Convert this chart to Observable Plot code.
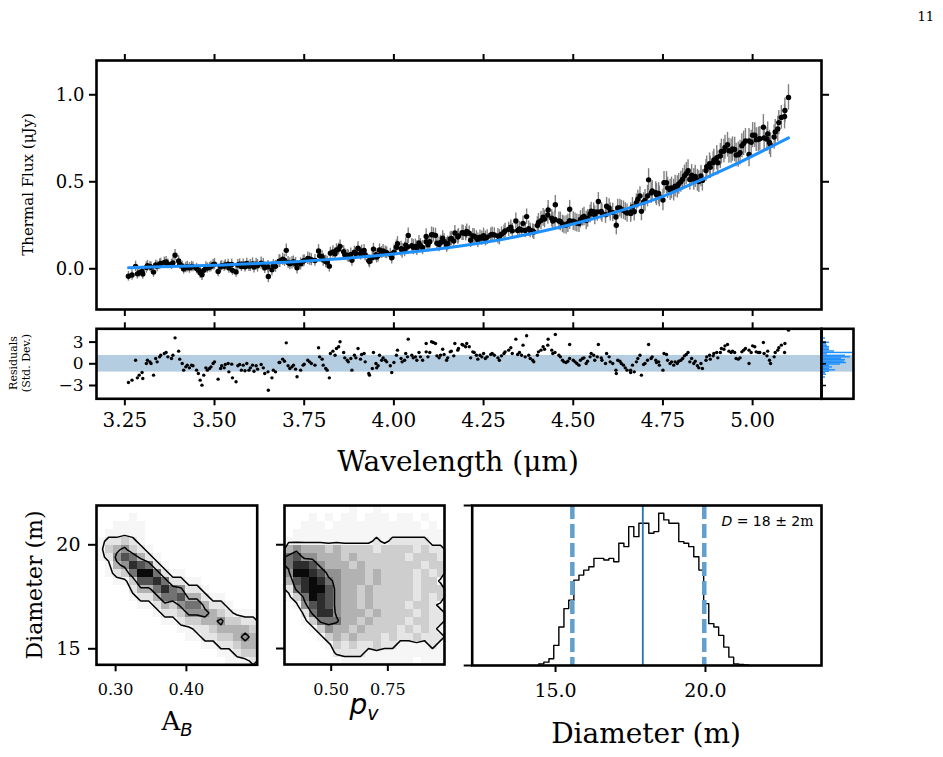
<!DOCTYPE html>
<html><head><meta charset="utf-8">
<script src="https://cdn.jsdelivr.net/npm/d3@7"></script>
<script src="https://cdn.jsdelivr.net/npm/@observablehq/plot@0.6"></script>
<style>
body{margin:0;background:#fff;}
#fig{position:relative;width:943px;height:757px;overflow:hidden;background:#fff;}
#fig svg{position:absolute;max-width:none;overflow:visible;}
</style></head><body><div id="fig"></div>
<script>
// ---------- DATA ----------
// Spectral channels (set A)
const wavelength = [
3.26,3.27,3.28,3.29,3.30,3.31,3.32,3.33,3.34,3.35,
3.36,3.37,3.38,3.39,3.40,3.41,3.42,3.43,3.44,3.45,
3.46,3.47,3.48,3.49,3.50,3.51,3.52,3.53,3.54,3.55,
3.56,3.57,3.58,3.59,3.60,3.61,3.62,3.63,3.64,3.65,
3.66,3.67,3.68,3.69,3.70,3.71,3.72,3.73,3.74,3.75,
3.76,3.77,3.78,3.79,3.80,3.81,3.82,3.83,3.84,3.85,
3.86,3.87,3.88,3.89,3.90,3.91,3.92,3.93,3.94,3.95,
3.96,3.97,3.98,3.99,4.00,4.01,4.02,4.03,4.04,4.05,
4.06,4.07,4.08,4.09,4.10,4.11,4.12,4.13,4.14,4.15,
4.16,4.17,4.18,4.19,4.20,4.21,4.22,4.23,4.24,4.25,
4.26,4.27,4.28,4.29,4.30,4.31,4.32,4.33,4.34,4.35,
4.36,4.37,4.38,4.39,4.40,4.41,4.42,4.43,4.44,4.45,
4.46,4.47,4.48,4.49,4.50,4.51,4.52,4.53,4.54,4.55,
4.56,4.57,4.58,4.59,4.60,4.61,4.62,4.63,4.64,4.65,
4.66,4.67,4.68,4.69,4.70,4.71,4.72,4.73,4.74,4.75,
4.76,4.77,4.78,4.79,4.80,4.81,4.82,4.83,4.84,4.85,
4.86,4.87,4.88,4.89,4.90,4.91,4.92,4.93,4.94,4.95,
4.96,4.97,4.98,4.99,5.00,5.01,5.02,5.03,5.04,5.05,
5.06,5.07,5.08,5.09,5.10];

const flux = [
-0.043,-0.036,0.014,-0.022,-0.030,0.008,0.013,-0.019,0.014,0.031,
0.037,0.028,0.025,0.078,0.045,0.015,0.007,0.005,0.011,0.001,
-0.023,-0.009,0.004,0.013,0.027,-0.016,0.018,0.022,0.005,-0.009,
-0.018,0.026,0.026,0.031,0.019,0.010,0.017,0.032,0.006,-0.044,
-0.006,0.014,0.044,0.055,0.106,0.029,0.040,0.006,0.028,0.047,
0.060,0.052,0.048,0.102,0.069,0.042,0.015,0.097,0.107,0.129,
0.098,0.077,0.083,0.095,0.118,0.101,0.081,0.047,0.064,0.081,
0.108,0.102,0.092,0.082,0.095,0.144,0.115,0.111,0.191,0.133,
0.129,0.148,0.122,0.186,0.155,0.195,0.147,0.151,0.157,0.146,
0.174,0.206,0.189,0.207,0.201,0.204,0.189,0.178,0.181,0.190,
0.181,0.194,0.194,0.188,0.199,0.218,0.227,0.218,0.275,0.229,
0.261,0.300,0.220,0.211,0.249,0.277,0.286,0.338,0.290,0.368,
0.275,0.258,0.252,0.342,0.274,0.263,0.284,0.301,0.290,0.331,
0.307,0.387,0.320,0.311,0.349,0.324,0.250,0.349,0.337,0.320,
0.317,0.328,0.400,0.330,0.393,0.511,0.447,0.437,0.416,0.395,
0.495,0.453,0.452,0.471,0.500,0.534,0.563,0.538,0.531,0.501,
0.508,0.565,0.604,0.609,0.638,0.648,0.677,0.713,0.677,0.686,
0.656,0.707,0.735,0.657,0.768,0.742,0.748,0.814,0.745,0.710,
0.757,0.804,0.870,0.910,0.985];

const fluxErr = [
.028,.030,.030,.027,.030,.032,.029,.030,.031,.030,
.030,.028,.030,.033,.030,.029,.030,.031,.028,.030,
.031,.030,.029,.030,.032,.030,.028,.030,.031,.029,
.030,.031,.030,.029,.035,.034,.036,.035,.033,.036,
.035,.034,.036,.035,.037,.035,.034,.036,.035,.033,
.036,.035,.034,.037,.035,.036,.034,.035,.037,.036,
.035,.034,.036,.035,.037,.035,.036,.034,.035,.036,
.035,.037,.034,.036,.042,.041,.043,.042,.044,.041,
.042,.043,.041,.044,.042,.041,.043,.042,.044,.042,
.041,.043,.042,.044,.041,.042,.043,.041,.042,.044,
.043,.041,.042,.044,.042,.043,.041,.042,.045,.043,
.042,.044,.041,.043,.050,.052,.051,.054,.050,.053,
.052,.050,.053,.051,.054,.052,.050,.053,.051,.052,
.054,.051,.052,.050,.053,.052,.055,.051,.053,.052,
.050,.053,.052,.054,.062,.064,.061,.063,.060,.062,
.063,.061,.062,.064,.060,.062,.063,.061,.064,.062,
.061,.063,.062,.064,.070,.072,.068,.071,.069,.070,
.072,.069,.071,.070,.073,.068,.070,.072,.069,.071,
.070,.072,.068,.071,.073];

const residual = [
-2.59,-2.26,0.50,-1.57,-2.03,0.04,0.27,-1.57,0.27,1.19,
1.42,0.96,0.73,3.59,1.75,0.04,-0.42,-0.56,-0.28,-0.88,
-2.26,-1.57,-0.88,-0.42,0.27,-2.12,-0.28,-0.10,-1.11,-1.94,
-2.49,-0.10,-0.19,0.04,-0.56,-1.02,-0.74,-0.10,-1.34,-3.65,
-1.94,-1.11,0.18,0.64,2.90,-0.65,-0.19,-1.80,-0.88,-0.05,
0.50,0.04,-0.19,2.21,0.64,-0.65,-1.94,1.75,2.12,3.04,
1.56,0.50,0.73,1.19,2.12,1.29,0.27,-1.34,-0.65,0.04,
1.19,0.82,0.27,-0.28,0.18,1.89,0.73,0.50,3.41,1.19,
0.96,1.56,0.50,2.81,1.56,2.95,1.10,1.19,1.29,0.82,
1.75,2.81,2.12,2.67,2.35,2.35,1.65,1.19,1.19,1.42,
0.96,1.29,1.19,0.82,1.10,1.65,1.89,1.42,3.41,1.56,
2.58,3.87,0.73,0.27,1.19,1.89,2.02,3.41,1.89,4.05,
1.19,0.50,0.18,2.67,0.50,0.04,0.50,0.82,0.36,1.42,
0.50,2.67,0.50,0.04,0.96,0.04,-1.34,0.36,-0.19,-0.88,
-1.20,-1.11,0.73,-1.57,0.04,2.67,0.96,0.50,-0.19,-0.88,
1.29,0.04,-0.19,0.04,0.50,1.10,1.56,0.73,0.36,-0.56,
-0.65,0.50,1.19,1.10,1.56,1.56,2.02,2.67,1.56,1.56,
0.64,1.65,2.12,0.04,2.48,1.65,1.56,2.95,1.10,0.04,
0.96,1.89,2.58,2.81,4.65];

// Interleaved spectral channels (set B)
const wavelengthB = [
3.285,3.298,3.313,3.323,3.336,3.347,3.365,3.384,3.403,3.414,
3.424,3.436,3.455,3.465,3.476,3.486,3.496,3.517,3.527,3.538,
3.548,3.565,3.575,3.585,3.596,3.606,3.616,3.636,3.649,3.664,
3.682,3.695,3.705,3.716,3.726,3.747,3.765,3.793,3.803,3.814,
3.823,3.836,3.846,3.863,3.873,3.883,3.894,3.907,3.917,3.932,
3.943,3.952,3.956,3.966,3.976,3.994,4.007,4.023,4.033,4.038,
4.054,4.064,4.074,4.090,4.095,4.105,4.116,4.126,4.136,4.147,
4.157,4.167,4.178,4.193,4.203,4.214,4.224,4.234,4.245,4.255,
4.274,4.294,4.307,4.326,4.345,4.356,4.366,4.376,4.387,4.403,
4.416,4.429,4.443,4.449,4.464,4.474,4.485,4.490,4.505,4.516,
4.526,4.536,4.547,4.557,4.567,4.578,4.593,4.603,4.619,4.624,
4.634,4.645,4.660,4.665,4.676,4.686,4.696,4.707,4.717,4.732,
4.738,4.753,4.763,4.774,4.784,4.794,4.805,4.815,4.825,4.836,
4.846,4.856,4.872,4.882,4.892,4.903,4.913,4.923,4.934,4.944,
4.954,4.965,4.975,4.990,4.996,5.006,5.016,5.032,5.042,5.047,
5.063,5.073,5.089];

const fluxB = [
-0.029,-0.015,0.017,0.009,0.022,0.027,0.039,0.034,0.026,-0.001,
0.012,0.013,-0.007,-0.035,0.010,0.009,0.023,0.012,0.014,0.026,
0.025,0.022,0.013,0.012,0.015,0.028,0.027,0.023,0.012,0.019,
0.044,0.049,0.036,0.035,0.029,0.044,0.056,0.075,0.051,0.038,
0.089,0.086,0.113,0.082,0.072,0.049,0.088,0.086,0.105,0.042,
0.113,0.068,0.075,0.094,0.096,0.063,0.124,0.103,0.136,0.125,
0.124,0.119,0.133,0.156,0.138,0.196,0.192,0.140,0.176,0.137,
0.171,0.159,0.183,0.206,0.215,0.164,0.187,0.164,0.176,0.174,
0.198,0.181,0.210,0.239,0.220,0.222,0.220,0.230,0.217,0.266,
0.296,0.309,0.275,0.283,0.272,0.253,0.261,0.276,0.268,0.260,
0.296,0.277,0.315,0.328,0.327,0.329,0.359,0.327,0.298,0.349,
0.340,0.328,0.327,0.356,0.380,0.419,0.384,0.418,0.436,0.426,
0.433,0.495,0.465,0.465,0.475,0.488,0.515,0.547,0.513,0.514,
0.509,0.533,0.586,0.583,0.625,0.609,0.674,0.698,0.678,0.688,
0.654,0.667,0.721,0.734,0.727,0.768,0.744,0.752,0.775,0.726,
0.786,0.840,0.875];

const fluxErrB = [
.030,.029,.031,.030,.028,.030,.032,.030,.029,.030,
.031,.030,.029,.033,.030,.028,.030,.031,.030,.029,
.030,.031,.029,.030,.030,.035,.034,.036,.035,.034,
.036,.035,.034,.036,.035,.034,.036,.035,.037,.034,
.035,.036,.034,.035,.036,.035,.034,.036,.035,.037,
.034,.035,.036,.034,.035,.036,.042,.043,.041,.042,
.044,.042,.041,.043,.042,.044,.041,.042,.043,.042,
.041,.043,.042,.044,.042,.041,.043,.042,.041,.043,
.042,.044,.041,.042,.043,.041,.042,.044,.042,.052,
.051,.053,.050,.052,.054,.051,.052,.050,.053,.052,
.051,.053,.052,.050,.054,.052,.051,.053,.052,.050,
.053,.051,.052,.054,.050,.052,.053,.062,.061,.063,
.062,.064,.061,.062,.063,.060,.062,.064,.061,.062,
.063,.061,.062,.064,.062,.070,.071,.069,.072,.070,
.068,.071,.070,.072,.069,.071,.070,.073,.069,.070,
.072,.070,.071];

const residualB = [
-1.94,-1.20,0.50,0.04,0.73,0.96,1.56,1.19,0.64,-0.88,
-0.19,-0.19,-1.34,-2.95,-0.56,-0.65,0.04,-0.65,-0.56,0.04,
-0.05,-0.28,-0.88,-0.97,-0.88,-0.19,-0.28,-0.56,-1.11,-0.88,
0.18,0.36,-0.28,-0.42,-0.74,-0.19,0.27,0.96,-0.19,-0.88,
1.42,1.19,2.35,0.82,0.27,-0.88,0.82,0.64,1.42,-1.57,
1.56,-0.56,-0.28,0.50,0.50,-1.20,1.19,0.27,1.42,0.96,
0.82,0.50,0.96,1.65,0.96,3.04,2.81,0.82,2.02,0.50,
1.65,1.10,1.89,2.58,2.81,0.82,1.56,0.64,0.96,0.73,
1.42,0.50,1.42,2.21,1.29,1.19,0.96,1.19,0.50,1.65,
2.35,2.58,1.42,1.56,0.96,0.27,0.36,0.73,0.27,-0.19,
0.73,0.04,0.96,1.19,0.96,0.82,1.42,0.27,-0.88,0.50,
0.04,-0.56,-0.88,-0.19,0.27,1.19,-0.10,0.50,0.73,0.18,
0.27,1.42,0.50,0.27,0.27,0.36,0.73,1.29,0.27,0.04,
-0.28,0.04,0.96,0.64,1.42,0.82,2.12,2.48,1.75,1.75,
0.73,0.82,1.89,1.89,1.56,2.35,1.56,1.42,1.75,0.50,
1.56,2.21,1.56];

// Best-fit thermal model curve
const modelWavelength = [3.26,3.35,3.45,3.55,3.65,3.75,3.85,3.95,4.05,4.15,4.25,4.35,4.45,4.55,4.65,4.75,4.85,4.95,5.05,5.10];
const modelFlux = [0.006,0.011,0.017,0.024,0.033,0.044,0.058,0.075,0.096,0.121,0.151,0.188,0.233,0.285,0.346,0.416,0.505,0.598,0.700,0.752];

const residualBand = [-1.15, 1.15];
const wavelengthTicks = [3.25, 3.50, 3.75, 4.00, 4.25, 4.50, 4.75, 5.00];
const fluxTicks = [0.0, 0.5, 1.0];
const residualTicks = [-3, 0, 3];

// 2D posterior densities (rows: top = large diameter; digits 0-9 = density level)
const bondAlbedoDensity = [
"00000000000000000000",
"00001000000000000000",
"00111100000000000000",
"01111100000000000000",
"12232100000000000000",
"13453210000000000000",
"12576421000000000000",
"01458762100000000000",
"01236996211000000000",
"00113778622110000000",
"00002446865221000000",
"00001224667442110000",
"00000112435664221000",
"00000001223555432111",
"00000000112334453322",
"00000000001122344443",
"00000000000112233454",
"00000000000001122344",
"00000000000000011233",
"00000000000000001112"];

const geomAlbedoDensity = [
"00000000100100000000",
"00010101101110110100",
"00111011111111111010",
"01111111111111111111",
"11111111111212222211",
"45444343333233332322",
"67554443433333323332",
"68875444343333333233",
"59987554443433332323",
"47898654443433332331",
"26899754434333332333",
"13698754434333332323",
"01578754434333323321",
"00268854443433332322",
"00136664434333323322",
"00013544343333232321",
"00001343433323223222",
"00000132322322111121",
"00000022221111111111",
"00000001111111110111"];

const diameterTicks = [15, 20];
const bondTicks = [0.30, 0.40];
const pvTicks = [0.50, 0.75];
const histTicks = [15.0, 20.0];

const diameterBinEdges = [14.44,14.61,14.78,14.94,15.11,15.28,15.44,15.61,15.78,15.94,16.11,16.28,16.44,16.61,16.78,16.94,17.11,17.28,17.44,17.61,17.78,17.94,18.11,18.28,18.44,18.61,18.78,18.94,19.11,19.28,19.44,19.61,19.78,19.94,20.11,20.28,20.44,20.61,20.78,20.94,21.11,21.28,21.44];
const diameterCounts = [5,10,20,60,115,170,195,255,270,285,295,320,320,315,320,310,365,355,415,385,425,425,395,400,455,435,425,425,370,365,355,325,285,185,125,115,90,55,25,5,3,2];
const diameterMedian = 17.91;
const diameterInterval = [15.56, 19.96];
const diameterLabel = "D = 18 ± 2m";

// ---------- BUILD ----------
const fig = document.getElementById("fig");
const baseStyle = {fontFamily: "DejaVu Serif", fontSize: "16px", color: "black", background: "transparent", overflow: "visible"};
const spectrum = wavelength.map((wl, i) => ({wl, flux: flux[i], err: fluxErr[i], res: residual[i]}))
  .concat(wavelengthB.map((wl, i) => ({wl, flux: fluxB[i], err: fluxErrB[i], res: residualB[i]})))
  .sort((a, b) => a.wl - b.wl);
const allResiduals = spectrum.map(d => d.res);
const model = modelWavelength.map((wl, i) => ({wl, flux: modelFlux[i]}));
const blank = () => "";
const frame = () => Plot.frame({stroke: "black", strokeWidth: 2.6});
function place(el, left, topPx) { el.style.left = left + "px"; el.style.top = topPx + "px"; fig.appendChild(el); }

const wlDomain = [3.171, 5.192];

// Top: thermal flux
const fluxPlot = Plot.plot({
  width: 880, height: 290, marginLeft: 96, marginRight: 59, marginTop: 20, marginBottom: 21,
  style: baseStyle,
  x: {domain: wlDomain, axis: null, label: null},
  y: {domain: [-0.234, 1.197], axis: null, label: null},
  marks: [
    Plot.ruleX(spectrum, {x: "wl", y1: d => d.flux - d.err, y2: d => d.flux + d.err, stroke: "#808080", strokeWidth: 1.4}),
    Plot.dot(spectrum, {x: "wl", y: "flux", r: 2.7, fill: "black"}),
    Plot.line(model, {x: "wl", y: "flux", stroke: "#1e90ff", strokeWidth: 3, curve: "natural"}),
    frame(),
    Plot.axisX(wavelengthTicks, {anchor: "top", tickSize: 7, strokeWidth: 2, tickFormat: blank, label: null}),
    Plot.axisX(wavelengthTicks, {anchor: "bottom", tickSize: 7, strokeWidth: 2, tickFormat: blank, label: null}),
    Plot.axisY(fluxTicks, {anchor: "left", tickSize: 7, tickPadding: 5, strokeWidth: 2, tickFormat: d3.format(".1f"), fontSize: 18, label: null}),
    Plot.axisY(fluxTicks, {anchor: "right", tickSize: 7, strokeWidth: 2, tickFormat: blank, label: null})
  ]
});
place(fluxPlot, 0, 40);

// Residuals
const resPlot = Plot.plot({
  width: 880, height: 190, marginLeft: 96, marginRight: 59, marginTop: 28.3, marginBottom: 91.7,
  style: baseStyle,
  x: {domain: wlDomain, axis: null, label: null},
  y: {domain: [-4.84, 4.84], axis: null, label: null},
  marks: [
    Plot.rect([residualBand], {y1: d => d[0], y2: d => d[1], fill: "#b5cde1"}),
    Plot.dot(spectrum, {x: "wl", y: "res", r: 1.7, fill: "black"}),
    frame(),
    Plot.axisX(wavelengthTicks, {anchor: "top", tickSize: 7, strokeWidth: 2, tickFormat: blank, label: null}),
    Plot.axisX(wavelengthTicks, {anchor: "bottom", tickSize: 7, tickPadding: 7, strokeWidth: 2, tickFormat: d3.format(".2f"), fontSize: 20, label: null}),
    Plot.axisY(residualTicks, {anchor: "left", tickSize: 7, tickPadding: 6, strokeWidth: 2, tickFormat: d3.format("d"), fontSize: 17, label: null})
  ]
});
place(resPlot, 0, 300);

// Residual histogram
const resHist = Plot.plot({
  width: 80, height: 190, marginLeft: 21, marginRight: 27, marginTop: 28.3, marginBottom: 91.7,
  style: baseStyle,
  x: {axis: null, label: null},
  y: {domain: [-4.84, 4.84], axis: null, label: null},
  marks: [
    Plot.rect([residualBand], {y1: d => d[0], y2: d => d[1], fill: "#b5cde1"}),
    Plot.rectX(allResiduals, Plot.binY({x: "count"}, {y: d => d, thresholds: 30, fill: "#1e90ff", insetTop: 0, insetBottom: 0})),
    frame(),
    Plot.axisY(residualTicks, {anchor: "left", tickSize: -5, strokeWidth: 1.5, tickFormat: blank, label: null})
  ]
});
place(resHist, 800, 300);

// Bottom panels
const dDomain = [14.23, 21.89];
function densityPanel(rows, xDomain, xTicks, thresholds, opts) {
  const values = rows.flatMap(r => Array.from(r, Number));
  const w = rows[0].length, h = rows.length;
  const grid = {width: w, height: h, x1: xDomain[0], x2: xDomain[1], y1: dDomain[1], y2: dDomain[0]};
  const {yLabels, ...dims} = opts;
  return Plot.plot({
    ...dims,
    style: baseStyle,
    x: {domain: xDomain, axis: null, label: null},
    y: {domain: dDomain, axis: null, label: null},
    color: {type: "linear", scheme: "greys", domain: [0.35, 9.3], clamp: true},
    marks: [
      Plot.raster(values, {...grid, fill: d => d, imageRendering: "pixelated"}),
      Plot.contour(values, {...grid, thresholds, stroke: "black", strokeWidth: 1.5, fill: "none"}),
      frame(),
      Plot.axisY(diameterTicks, {anchor: "left", tickSize: 8, tickPadding: 8, strokeWidth: 2, tickFormat: yLabels ? d3.format("d") : blank, fontSize: 19, label: null}),
      Plot.axisX(xTicks, {anchor: "bottom", tickSize: 7, tickPadding: 12, strokeWidth: 2, tickFormat: d3.format(".2f"), fontSize: 16, label: null})
    ]
  });
}
const pA = densityPanel(bondAlbedoDensity, [0.273, 0.50], bondTicks, [1.5, 4.5],
  {width: 280, height: 277, marginLeft: 96, marginRight: 23.3, marginTop: 25, marginBottom: 92.7, yLabels: true});
place(pA, 0, 480);
const pB = densityPanel(geomAlbedoDensity, [0.294, 1.0], pvTicks, [1.5, 5.5],
  {width: 200, height: 277, marginLeft: 14, marginRight: 26, marginTop: 25, marginBottom: 93, yLabels: false});
place(pB, 270, 480);

const histLine = [{d: diameterBinEdges[0], c: 0}].concat(
  diameterBinEdges.map((e, i) => ({d: e, c: i < diameterCounts.length ? diameterCounts[i] : 0})));
const histYMax = 478;
const pC = Plot.plot({
  width: 400, height: 277, marginLeft: 11.7, marginRight: 39, marginTop: 25, marginBottom: 92,
  style: baseStyle,
  x: {domain: [12.22, 23.87], axis: null, label: null},
  y: {domain: [0, histYMax], axis: null, label: null},
  marks: [
    Plot.line(histLine, {x: "d", y: "c", curve: "step-after", stroke: "black", strokeWidth: 1.4}),
    Plot.ruleX([diameterMedian], {stroke: "#1f77b4", strokeWidth: 1.8}),
    Plot.ruleX(diameterInterval, {stroke: "#62a0cb", strokeWidth: 4.5, strokeDasharray: "14,5"}),
    Plot.text([diameterLabel], {frameAnchor: "top-right", textAnchor: "end", lineAnchor: "middle", dx: -8, dy: 16, fontSize: 14, fontFamily: "DejaVu Sans"}),
    frame(),
    Plot.axisY([0, histYMax], {anchor: "left", tickSize: 8, strokeWidth: 2, tickFormat: blank, label: null}),
    Plot.axisX(histTicks, {anchor: "bottom", tickSize: 7, tickPadding: 11, strokeWidth: 2, tickFormat: d3.format(".1f"), fontSize: 19, label: null})
  ]
});
pC.querySelectorAll("text").forEach(t => {
  if (t.textContent === diameterLabel) {
    t.innerHTML = '<tspan font-style="italic">D</tspan> = 18 ± 2<tspan font-family="DejaVu Serif">m</tspan>';
  }
});
place(pC, 460, 480);

// Overlay labels
const ov = d3.create("svg").attr("width", 943).attr("height", 757)
  .attr("font-family", "DejaVu Serif").attr("fill", "black");
ov.append("text").attr("x", 934).attr("y", 21).attr("text-anchor", "end").attr("font-size", 13).text("11");
ov.append("text").attr("transform", "translate(33,184.5) rotate(-90)").attr("text-anchor", "middle").attr("font-size", 15).text("Thermal Flux (μJy)");
ov.append("text").attr("transform", "translate(16.5,363) rotate(-90)").attr("text-anchor", "middle").attr("font-size", 11).text("Residuals");
ov.append("text").attr("transform", "translate(29.5,363) rotate(-90)").attr("text-anchor", "middle").attr("font-size", 11).text("(Std. Dev.)");
ov.append("text").attr("x", 458).attr("y", 471).attr("text-anchor", "middle").attr("font-size", 28).text("Wavelength (μm)");
ov.append("text").attr("transform", "translate(41.5,585) rotate(-90)").attr("text-anchor", "middle").attr("font-size", 22).text("Diameter (m)");
ov.append("text").attr("x", 177).attr("y", 730).attr("text-anchor", "middle").attr("font-size", 26)
  .html('A<tspan font-family="DejaVu Sans" font-style="italic" font-size="18" dy="6">B</tspan>');
ov.append("text").attr("x", 364).attr("y", 714).attr("text-anchor", "middle").attr("font-size", 28)
  .attr("font-family", "DejaVu Sans").attr("font-style", "italic")
  .html('p<tspan font-size="19" dy="6">v</tspan>');
ov.append("text").attr("x", 646).attr("y", 743).attr("text-anchor", "middle").attr("font-size", 28).text("Diameter (m)");
place(ov.node(), 0, 0);
</script></body></html>
